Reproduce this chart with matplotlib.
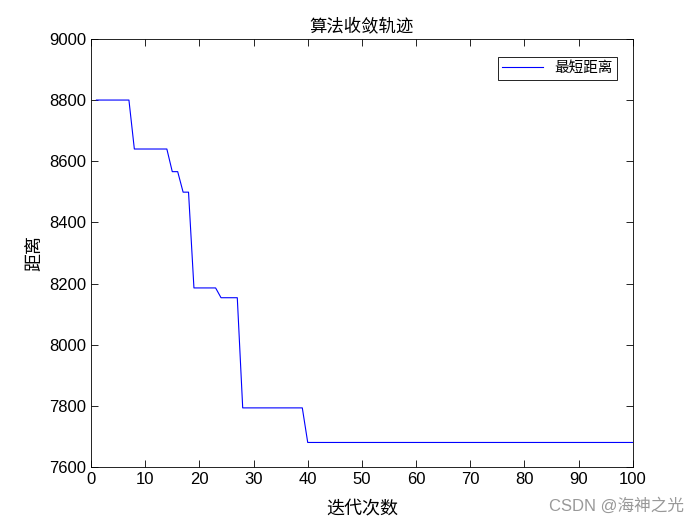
import matplotlib.pyplot as plt

# best distance per iteration
iters = list(range(1, 101))
best_dist = ([8800] * 7 + [8640] * 7 + [8566] * 2 + [8499] * 2 + [8186] * 5
             + [8154] * 4 + [7794] * 12 + [7681] * 61)

title = '算法收敛轨迹'
xlabel = '迭代次数'
ylabel = '距离'
legend_label = '最短距离'

plt.rcParams['font.family'] = ['Liberation Sans', 'Noto Sans CJK SC', 'DejaVu Sans']
cjk = ['Noto Sans CJK SC', 'DejaVu Sans']

fig = plt.figure(figsize=(7, 5.25), dpi=100)
ax = fig.add_axes([0.13, 0.11, 0.774, 0.816])
ax.plot(iters, best_dist, color='#0000ff', linewidth=0.8, label=legend_label)

ax.set_xlim(0, 100)
ax.set_ylim(7600, 9000)
ax.set_xticks(range(0, 101, 10))
ax.set_yticks(range(7600, 9001, 200))
ax.tick_params(direction='in', top=True, right=True, labelsize=12, length=5, width=0.6)
for s in ax.spines.values():
    s.set_linewidth(0.6)

ax.set_title(title, family=cjk, fontsize=12.5, pad=5, fontweight='light')
ax.set_xlabel(xlabel, family=cjk, fontsize=13, labelpad=9, fontweight='light')
ax.set_ylabel(ylabel, family=cjk, fontsize=13, labelpad=4, fontweight='light')

leg = ax.legend(loc='upper right', prop={'family': cjk, 'size': 10.5, 'weight': 'light'},
                fancybox=False, edgecolor='black', framealpha=1, handlelength=2.8,
                borderpad=0.3, bbox_to_anchor=(0.985, 0.975))
leg.get_frame().set_linewidth(0.6)

fig.text(0.977, 0.022, 'CSDN @海神之光', family=['Liberation Sans', 'Noto Sans CJK SC'],
         fontsize=12, color='#999999', ha='right', va='bottom')

fig.savefig('out.png', dpi=100)
